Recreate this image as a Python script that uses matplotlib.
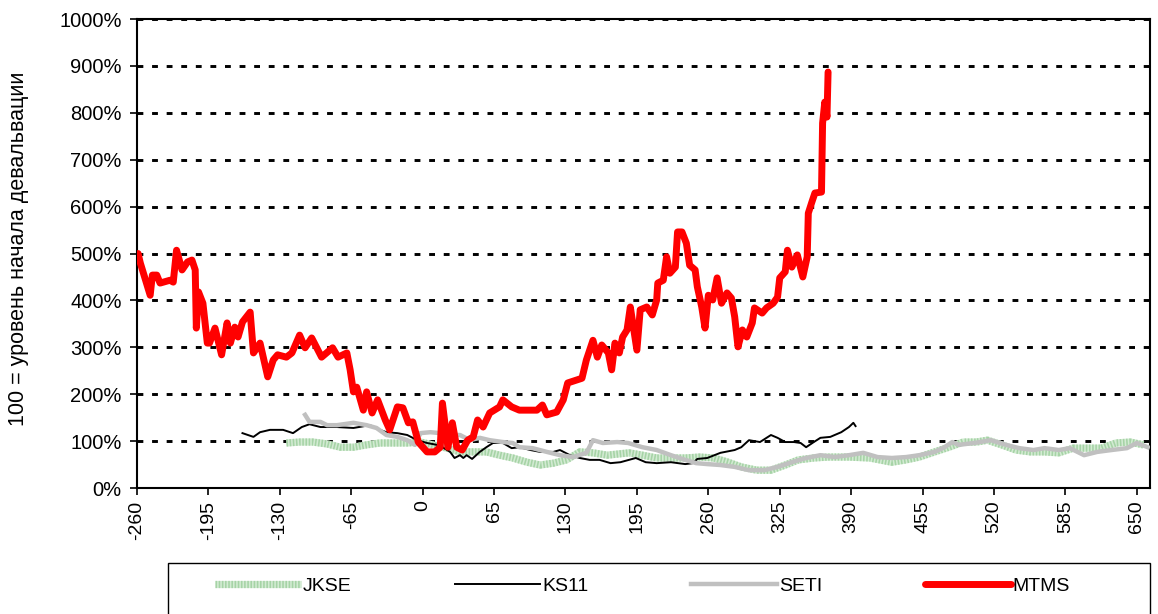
import matplotlib
matplotlib.use("Agg")
import matplotlib.pyplot as plt
from matplotlib.patches import Rectangle

plt.rcParams["font.family"] = ["Liberation Sans", "DejaVu Sans"]

# days relative to devaluation start, index level in % (100 = start of devaluation)
jkse_x = [-124, -112, -100, -87, -75, -63, -51, -39, -27, -14, -2, 9, 22, 34, 46, 58, 70, 82, 95, 107,
          119, 131, 143, 155, 168, 188, 200, 213, 226, 239, 252, 265, 278, 290, 304, 317, 330, 342, 356, 369,
          388, 407, 427, 440, 452, 466, 479, 492, 504, 514, 527, 540, 553, 566, 579, 592, 604, 618, 631, 644, 656]
jkse_y = [96, 98, 98, 94, 87, 87, 92, 96, 96, 96, 98, 92, 85, 77, 77, 77, 70, 64, 55, 49,
          53, 60, 77, 75, 70, 75, 70, 64, 64, 64, 66, 64, 55, 45, 38, 38, 49, 60, 64, 66,
          66, 64, 55, 60, 66, 77, 87, 98, 98, 102, 92, 81, 77, 77, 75, 85, 85, 85, 96, 98, 92]

ks11_x = [-164, -154, -148, -139, -127, -118, -110, -103, -93, -78, -63, -48, -39, -33, -23, -14, -5, 4, 13, 18,
          25, 29, 34, 37, 40, 45, 52, 58, 64, 73, 81, 88, 98, 107, 119, 125, 134, 143, 152, 161,
          171, 180, 194, 203, 213, 226, 239, 246, 250, 259, 271, 284, 290, 297, 307, 317, 323, 330, 338, 344,
          349, 356, 362, 371, 381, 388, 392, 394]
ks11_y = [117, 109, 119, 124, 124, 117, 130, 136, 130, 130, 128, 134, 124, 119, 117, 113, 102, 96, 92, 87,
          77, 64, 70, 64, 70, 62, 77, 87, 96, 96, 85, 87, 81, 77, 77, 81, 70, 64, 60, 60,
          53, 55, 64, 55, 53, 55, 51, 53, 62, 64, 75, 81, 87, 102, 98, 113, 107, 98, 98, 96,
          87, 98, 107, 109, 119, 130, 139, 132]

seti_x = [-107, -103, -93, -87, -78, -63, -51, -42, -33, -23, -14, -7, -2, 7, 16, 25, 34, 43, 52, 61,
          73, 82, 88, 100, 113, 125, 137, 149, 155, 164, 177, 187, 200, 213, 226, 239, 249, 259, 271, 284,
          297, 311, 323, 336, 349, 362, 375, 388, 401, 414, 427, 440, 452, 466, 475, 482, 488, 502, 517, 531,
          543, 556, 566, 579, 589, 602, 614, 627, 641, 650, 660]
seti_y = [156, 141, 141, 134, 134, 139, 134, 128, 113, 109, 102, 92, 117, 119, 117, 113, 113, 102, 107, 102,
          98, 96, 87, 85, 77, 70, 66, 75, 102, 96, 98, 96, 87, 81, 70, 60, 53, 51, 49, 45,
          38, 38, 45, 55, 64, 70, 66, 70, 75, 66, 64, 66, 70, 77, 87, 98, 92, 96, 102, 92,
          85, 81, 85, 81, 85, 70, 77, 81, 85, 96, 87]

mtms_x = [-259, -257, -248, -246, -242, -239, -230, -227, -224, -219, -214, -210, -207, -206, -204, -200, -196, -194, -189, -183,
          -178, -175, -171, -168, -164, -157, -154, -148, -141, -136, -132, -124, -119, -112, -107, -101, -92, -82, -77, -69,
          -66, -63, -60, -54, -51, -46, -41, -34, -30, -23, -18, -13, -9, -4, 4, 11, 16, 18, 23, 27,
          31, 36, 41, 46, 50, 55, 61, 70, 73, 81, 88, 104, 109, 113, 122, 128, 132, 145, 149, 155,
          159, 163, 169, 172, 175, 179, 182, 186, 189, 195, 198, 204, 209, 213, 214, 219, 222, 225, 230, 232,
          236, 240, 243, 248, 250, 254, 257, 260, 264, 268, 272, 277, 281, 284, 287, 291, 295, 300, 302, 309,
          313, 319, 323, 325, 330, 332, 336, 341, 346, 350, 351, 354, 357, 363, 364, 366, 368, 369]
mtms_y = [500, 480, 411, 454, 454, 437, 443, 439, 507, 465, 482, 486, 465, 341, 418, 394, 309, 309, 341, 284,
          352, 309, 343, 322, 354, 375, 288, 309, 237, 273, 284, 279, 288, 326, 299, 320, 279, 299, 279, 288,
          252, 205, 215, 166, 205, 160, 188, 145, 124, 173, 171, 139, 141, 98, 77, 77, 87, 181, 87, 139,
          87, 81, 102, 109, 145, 130, 160, 173, 188, 173, 166, 166, 177, 156, 162, 188, 224, 234, 273, 315,
          279, 305, 288, 252, 309, 288, 322, 337, 386, 294, 380, 386, 369, 401, 437, 443, 493, 458, 471, 546,
          546, 522, 475, 465, 429, 386, 341, 411, 401, 448, 394, 416, 405, 365, 301, 337, 322, 352, 384, 373,
          384, 394, 407, 448, 461, 507, 471, 497, 450, 493, 586, 608, 629, 631, 778, 823, 791, 887]

xticks = list(range(-260, 651, 65))
yticks = list(range(0, 1001, 100))
ylabels = [f"{v}%" for v in yticks]

fig = plt.figure(figsize=(11.58, 6.14), dpi=100)
ax = fig.add_axes([0.1183, 0.2052, 0.8748, 0.7638])

# JKSE: light green band with fine vertical stripes
ax.plot(jkse_x, jkse_y, color="#d3ebd3", lw=5.2, solid_capstyle="butt", zorder=2)
ax.plot(jkse_x, jkse_y, color="#a6d3a6", lw=5.2, ls=(0, (0.22, 0.22)), dash_capstyle="butt", zorder=2.1)
ax.plot(ks11_x, ks11_y, color="black", lw=1.4, zorder=3)
ax.plot(seti_x, seti_y, color="#c0c0c0", lw=3.2, solid_joinstyle="round", zorder=4)
ax.plot(mtms_x, mtms_y, color="#ff0000", lw=5, solid_joinstyle="round", solid_capstyle="round", zorder=5)

ax.set_xlim(-260, 662)
ax.set_ylim(0, 1000)
ax.set_xticks(xticks)
ax.set_xticklabels([str(v) for v in xticks], rotation=90, fontsize=14)
ax.set_yticks(yticks)
ax.set_yticklabels(ylabels, fontsize=14.5)
ax.tick_params(direction="out", length=5, width=1.2, pad=4)
ax.tick_params(axis="y", pad=6)
ax.yaxis.grid(True, color="black", linestyle=(0, (2, 3)), linewidth=2.1)
ax.set_axisbelow(True)
for s in ax.spines.values():
    s.set_linewidth(1.5)

fig.text(0.016, 0.595, "100 = уровень начала девальвации", rotation=90, ha="center", va="center", fontsize=15.5)

# legend frame
fig.patches.append(Rectangle((0.145, -0.05), 0.848, 0.133, transform=fig.transFigure,
                             fill=False, edgecolor="black", linewidth=1.0))
h_j1, = ax.plot([], [], color="#d3ebd3", lw=5.2, solid_capstyle="butt")
h_j2, = ax.plot([], [], color="#a6d3a6", lw=5.2, ls=(0, (0.22, 0.22)), dash_capstyle="butt")
h_k, = ax.plot([], [], color="black", lw=1.4)
h_s, = ax.plot([], [], color="#c0c0c0", lw=3.2)
h_m, = ax.plot([], [], color="#ff0000", lw=5, solid_capstyle="round")
fig.legend([(h_j1, h_j2), h_k, h_s, h_m], ["JKSE", "KS11", "SETI", "MTMS"],
           loc="center left", bbox_to_anchor=(0.186, 0.046), ncol=4, frameon=False,
           fontsize=14, handlelength=4.4, handletextpad=0.1, columnspacing=5.3,
           borderpad=0, borderaxespad=0)

fig.savefig("out.png", dpi=100)
